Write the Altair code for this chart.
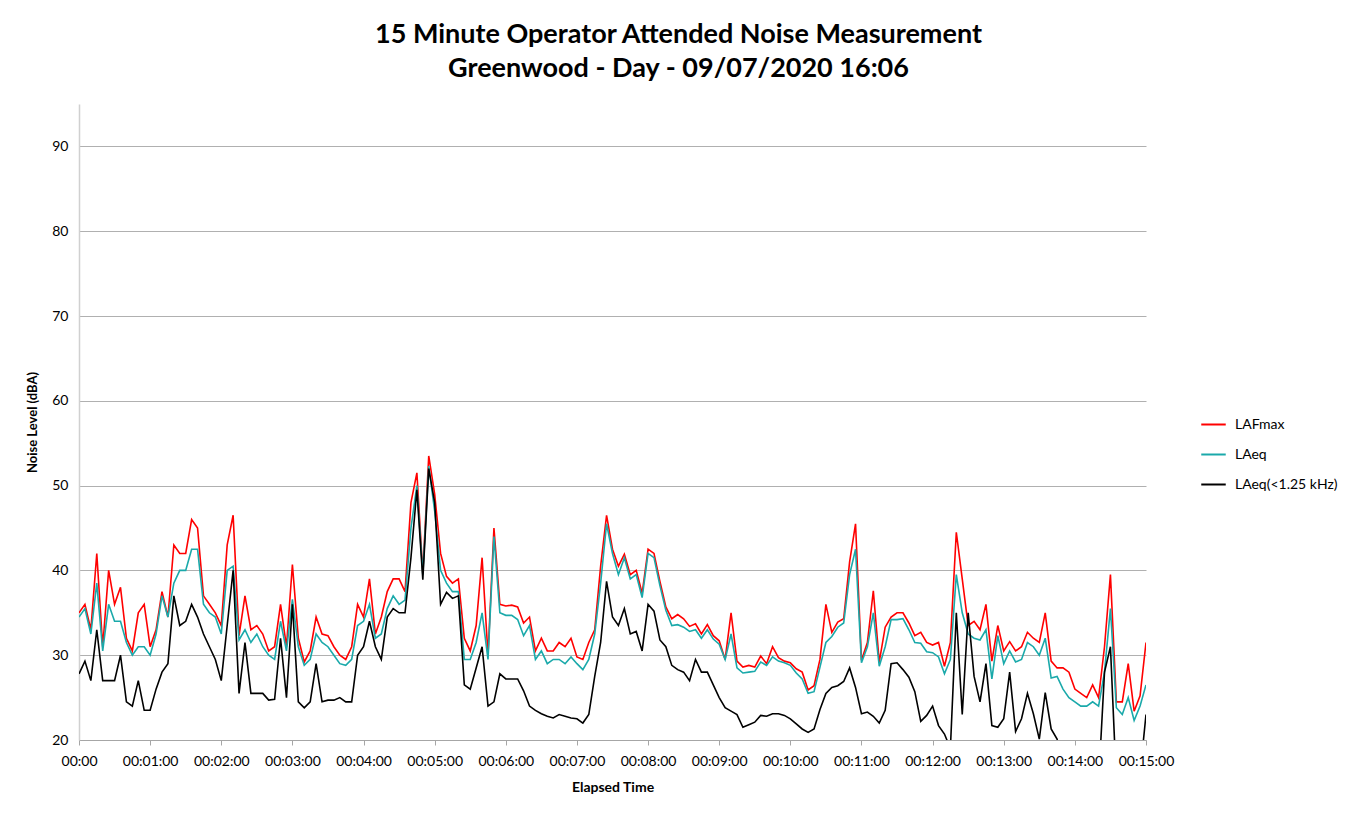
import altair as alt
import pandas as pd

# Elapsed time in seconds (one reading every 5 s over 15 minutes)
ELAPSED_S = list(range(0, 905, 5))

LAFMAX = [
    35, 36, 33, 42, 31, 40, 36, 38, 32, 30.5, 35, 36,
    31, 33, 37.5, 34.5, 43, 42, 42, 46, 45, 37, 36, 35,
    33.5, 43, 46.5, 32.3, 37, 33, 33.5, 32.5, 30.5, 31, 36, 31,
    40.7, 32, 29.2, 30.5, 34.5, 32.5, 32.3, 31, 30, 29.5, 31, 36,
    34.5, 39, 32.5, 34.5, 37.5, 39, 39, 37.5, 48, 51.5, 39.7, 53.5,
    49, 42, 39.3, 38.5, 39, 32, 30.5, 33.5, 41.5, 30, 45, 36,
    35.8, 35.9, 35.7, 33.8, 34.5, 30.5, 32, 30.5, 30.5, 31.5, 31, 32,
    29.8, 29.5, 31.5, 33, 40.5, 46.5, 42.5, 40.5, 41.9, 39.5, 40, 37.3,
    42.5, 42, 38.7, 35.7, 34.3, 34.8, 34.3, 33.4, 33.7, 32.5, 33.6, 32.3,
    31.7, 29.5, 35, 29.3, 28.6, 28.8, 28.6, 29.9, 29, 31, 29.7, 29.3,
    29.1, 28.4, 28, 25.9, 26.4, 29.5, 36, 32.7, 33.9, 34.3, 41, 45.5,
    29.4, 31.5, 37.6, 29.2, 33.3, 34.5, 35, 35, 33.8, 32.3, 32.7, 31.5,
    31.2, 31.5, 28.7, 31.5, 44.5, 39, 33.5, 34, 33, 36, 29.3, 33.5,
    30.5, 31.6, 30.5, 31, 32.7, 32, 31.5, 35, 29.3, 28.5, 28.5, 28,
    26, 25.5, 25, 26.5, 25, 31, 39.5, 24.5, 24.5, 29, 23.4, 25.2,
    31.5,
]

LAEQ = [
    34.5, 35.5, 32.5, 38.5, 30.5, 36, 34, 34, 31.5, 30, 31, 31,
    30, 32.5, 37, 34.5, 38.5, 40, 40, 42.5, 42.5, 36, 35, 34.5,
    32.5, 40, 40.5, 31.8, 33, 31.5, 32.5, 31, 30, 29.5, 34, 30.5,
    36.6, 31, 28.8, 29.5, 32.5, 31.5, 31, 30, 29, 28.8, 29.5, 33.5,
    34, 36, 32, 32.5, 35.5, 37, 36, 36.5, 45, 50, 39.5, 52.3,
    47, 40, 38.5, 37.5, 37.5, 29.5, 29.5, 31.5, 35, 29.5, 44, 35,
    34.7, 34.7, 34.2, 32.3, 33.5, 29.5, 30.5, 29, 29.5, 29.5, 29, 29.8,
    29, 28.3, 29.5, 32.5, 38.5, 45.5, 42, 39.5, 41.5, 39, 39.5, 36.8,
    42, 41.5, 38.2, 35.3, 33.5, 33.6, 33.3, 32.8, 33, 32, 33, 31.9,
    31.3, 29.5, 32.5, 28.5, 27.9, 28, 28.1, 29.2, 28.8, 29.8, 29.3, 29.1,
    28.8, 27.9, 27.2, 25.5, 25.7, 28.6, 31.5, 32.2, 33.3, 33.8, 39.5, 42.5,
    29.1, 31, 35, 28.7, 31, 34.2, 34.2, 34.3, 33, 31.5, 31.4, 30.4,
    30.3, 29.8, 27.8, 29.5, 39.5, 35, 32.5, 32, 31.8, 33, 27.2, 32.3,
    29, 30.5, 29.2, 29.5, 31.5, 31, 30, 32, 27.3, 27.5, 26, 25,
    24.5, 24, 24, 24.5, 24, 28, 35.5, 23.8, 23, 25, 22.3, 24,
    26.5,
]

LAEQ_LF = [
    27.8, 29.3, 27, 33, 27, 27, 27, 30, 24.5, 24, 27, 23.5,
    23.5, 26, 28, 29, 37, 33.5, 34, 36, 34.5, 32.5, 31, 29.5,
    27, 33.5, 40, 25.5, 31.5, 25.5, 25.5, 25.5, 24.7, 24.8, 32, 25,
    36, 24.5, 23.8, 24.5, 29, 24.5, 24.7, 24.7, 25, 24.5, 24.5, 30,
    31, 34, 31, 29.5, 34.5, 35.5, 35, 35, 41.5, 49.5, 38.9, 52,
    48, 36, 37.4, 36.7, 37, 26.5, 26, 28.5, 31, 24, 24.5, 27.8,
    27.2, 27.2, 27.2, 25.8, 24, 23.5, 23.1, 22.8, 22.6, 23, 22.8, 22.6,
    22.5, 22, 23, 27.5, 31.5, 38.7, 34.5, 33.5, 35.5, 32.5, 32.8, 30.5,
    36, 35.2, 31.8, 31, 28.8, 28.3, 28, 27, 29.5, 28, 28, 26.5,
    25, 23.8, 23.4, 23, 21.5, 21.8, 22.1, 22.9, 22.8, 23.1, 23.1, 22.9,
    22.5, 21.9, 21.3, 20.9, 21.3, 23.6, 25.5, 26.2, 26.4, 26.9, 28.5, 26.2,
    23.1, 23.3, 22.8, 22, 23.5, 29, 29.1, 28.3, 27.4, 25.7, 22.2, 22.9,
    24, 21.7, 20.7, 19, 35, 23, 35, 27.5, 24.5, 29, 21.7, 21.5,
    22.5, 28, 21, 22.5, 25.5, 23.1, 20.1, 25.6, 21.3, 20.1, 17, 16,
    16, 15, 15, 15, 15, 28, 31, 15, 16, 18, 16, 16,
    23,
]

SERIES = ["LAFmax", "LAeq", "LAeq(<1.25 kHz)"]
COLORS = ["#ff0000", "#1aa9aa", "#000000"]
Y_TICKS = [20, 30, 40, 50, 60, 70, 80, 90]
X_TICKS = list(range(0, 960, 60))

assert len(LAFMAX) == len(LAEQ) == len(LAEQ_LF) == len(ELAPSED_S)

frames = []
for name, vals in zip(SERIES, [LAFMAX, LAEQ, LAEQ_LF]):
    frames.append(pd.DataFrame({"t": ELAPSED_S, "level": vals, "series": name}))
df = pd.concat(frames, ignore_index=True)

FONT = "Lato"

color = alt.Color(
    "series:N",
    scale=alt.Scale(domain=SERIES, range=COLORS),
    legend=alt.Legend(
        title=None,
        orient="none",
        legendX=1121,
        legendY=307,
        symbolType="stroke",
        symbolSize=600,
        symbolStrokeWidth=2,
        labelFontSize=14,
        labelFont=FONT,
        labelColor="#000000",
        rowPadding=9,
        labelOffset=8,
    ),
)

x = alt.X(
    "t:Q",
    scale=alt.Scale(domain=[0, 900], nice=False, zero=False),
    axis=alt.Axis(
        values=X_TICKS,
        labelExpr="datum.value == 0 ? '00:00' : '00:' + (datum.value/60 < 10 ? '0' : '') + (datum.value/60) + ':00'",
        title="Elapsed Time",
        titleFont=FONT,
        titleFontSize=14,
        titleFontWeight="bold",
        titleColor="#000000",
        titlePadding=12,
        labelFont=FONT,
        labelFontSize=14,
        labelColor="#000000",
        labelPadding=9,
        labelFlush=False,
        tickSize=5,
        tickColor="#a6a6a6",
        domainColor="#a6a6a6",
        grid=False,
        labelOverlap=False,
    ),
)

y = alt.Y(
    "level:Q",
    scale=alt.Scale(domain=[20, 95], nice=False, zero=False),
    axis=alt.Axis(
        values=Y_TICKS,
        title="Noise Level (dBA)",
        titleFont=FONT,
        titleFontSize=13,
        titleFontWeight="bold",
        titleColor="#000000",
        titlePadding=12,
        labelFont=FONT,
        labelFontSize=14,
        labelColor="#000000",
        labelPadding=11,
        labelFlush=False,
        tickSize=0,
        domainColor="#d0d0d0",
        domainWidth=1.5,
        gridColor="#b0b0b0",
        gridWidth=1,
    ),
)

layers = []
for name in SERIES:
    layers.append(
        alt.Chart(df)
        .transform_filter(alt.datum.series == name)
        .mark_line(strokeWidth=1.6, clip=True)
        .encode(x=x, y=y, color=color)
    )

chart = (
    alt.layer(*layers)
    .properties(
        width=1067,
        height=636,
        title=alt.TitleParams(
            text=[
                "15 Minute Operator Attended Noise Measurement",
                "Greenwood - Day - 09/07/2020 16:06",
            ],
            font=FONT,
            fontSize=27,
            fontWeight="bold",
            color="#000000",
            anchor="middle",
            lineHeight=34,
            offset=21,
            dx=66,
        ),
        autosize=alt.AutoSizeParams(type="none"),
        padding={"left": 71, "top": 96, "right": 197, "bottom": 64},
        background="#ffffff",
    )
    .configure_view(stroke=None)
)

chart.save("out.html", embed_options={"renderer": "svg", "actions": False})
